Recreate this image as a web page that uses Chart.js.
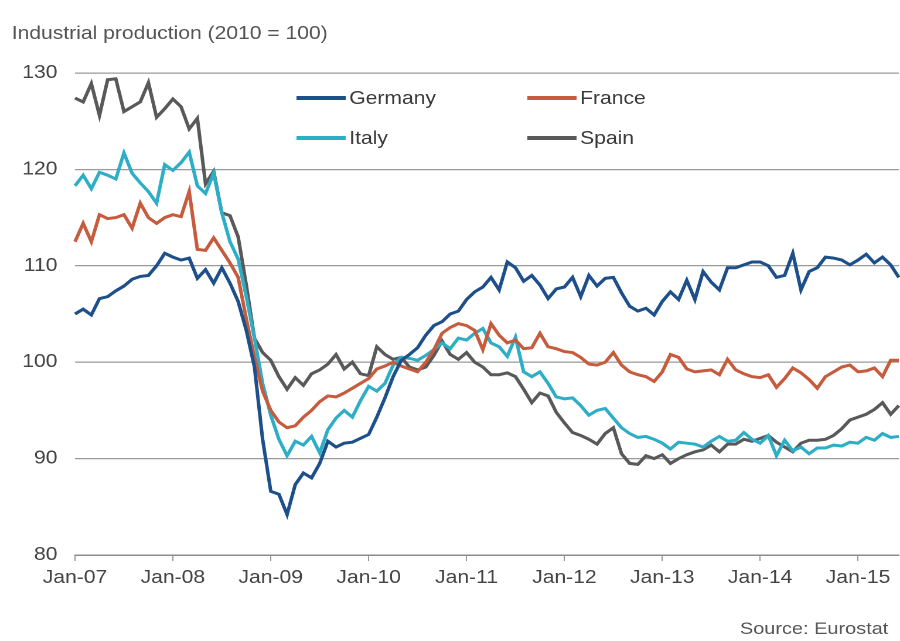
<!DOCTYPE html>
<html lang="en">
<head>
    <meta charset="UTF-8" />
    <title>Industrial production (2010 = 100)</title>
    <script src="https://cdn.jsdelivr.net/npm/chart.js"></script>
    <style>
        body { margin: 0; background: #fff; overflow: hidden; }
        /* the source picture is stretched sideways, so the whole chart is too */
        #wrap { width: 768px; height: 641px; transform: scaleX(1.171875); transform-origin: 0 0; }
    </style>
</head>
<body>
    <div id="wrap"><canvas id="ipChart" width="768" height="641"></canvas></div>

    <script>
        // monthly index, Jan-07 .. Jun-15 (2010 = 100)
        const tickLabels = ['Jan-07', 'Jan-08', 'Jan-09', 'Jan-10', 'Jan-11', 'Jan-12', 'Jan-13', 'Jan-14', 'Jan-15'];
        const yTicks = [80, 90, 100, 110, 120, 130];

        const germany = [
            105.0, 105.5, 104.9, 106.6, 106.8, 107.4, 107.9, 108.6, 108.9, 109.0, 110.0, 111.3,
            110.9, 110.6, 110.8, 108.7, 109.6, 108.2, 109.8, 108.2, 106.3, 103.3, 99.5, 92.0,
            86.6, 86.3, 84.2, 87.3, 88.5, 88.0, 89.5, 91.8, 91.2, 91.6, 91.7, 92.1,
            92.5, 94.3, 96.3, 98.5, 100.2, 100.8, 101.5, 102.8, 103.8, 104.2, 105.0, 105.3,
            106.5, 107.3, 107.8, 108.8, 107.5, 110.4, 109.8, 108.4, 109.0, 108.0, 106.6, 107.6,
            107.8, 108.8, 106.8, 109.0, 107.9, 108.7, 108.8, 107.2, 105.8, 105.3, 105.6, 104.9,
            106.3, 107.3, 106.5, 108.5, 106.5, 109.4, 108.3, 107.5, 109.8, 109.8, 110.1, 110.4,
            110.4, 110.0, 108.8, 109.0, 111.3, 107.5, 109.4, 109.8, 110.9, 110.8, 110.6, 110.1,
            110.6, 111.2, 110.3, 110.9, 110.1, 108.8
        ];
        const france = [
            112.5, 114.4, 112.5, 115.3, 114.9, 115.0, 115.3, 113.9, 116.5, 115.0, 114.4, 115.0,
            115.3, 115.1, 117.7, 111.7, 111.6, 112.9, 111.6, 110.3, 108.8, 104.5, 100.5, 97.0,
            95.0, 93.8, 93.2, 93.4, 94.3, 95.0, 95.9, 96.5, 96.4, 96.8, 97.3, 97.8,
            98.3, 99.3, 99.6, 100.0, 99.6, 99.3, 99.0, 100.0, 101.3, 103.0, 103.6, 104.0,
            103.8, 103.3, 101.3, 104.0, 102.8, 102.0, 102.3, 101.4, 101.5, 103.0, 101.6, 101.4,
            101.1, 101.0, 100.5, 99.8, 99.7, 100.0, 101.0, 99.7, 99.0, 98.7, 98.5, 98.0,
            99.0, 100.8, 100.5, 99.3, 99.0, 99.1, 99.2, 98.7, 100.3, 99.2, 98.8, 98.5,
            98.4, 98.7, 97.4, 98.3, 99.4, 98.9, 98.2, 97.3, 98.5, 99.0, 99.5, 99.7,
            99.0, 99.1, 99.4, 98.5, 100.2, 100.2
        ];
        const italy = [
            118.3, 119.4, 118.0, 119.7, 119.4, 119.0, 121.7, 119.6, 118.6, 117.7, 116.5, 120.5,
            119.9, 120.7, 121.8, 118.3, 117.5, 119.6, 115.5, 112.5, 110.7, 106.8, 102.5, 97.8,
            94.5, 92.0, 90.3, 91.8, 91.4, 92.3, 90.6, 93.0, 94.2, 95.0, 94.3, 96.0,
            97.5, 97.0, 97.8, 99.7, 100.5, 100.4, 100.2, 100.7, 101.3, 102.0, 101.4, 102.5,
            102.3, 103.0, 103.5, 102.0, 101.6, 100.6, 102.6, 99.0, 98.5, 99.0, 97.8, 96.4,
            96.2, 96.3, 95.5, 94.5, 95.0, 95.2, 94.2, 93.2, 92.6, 92.2, 92.3, 92.0,
            91.6, 91.0, 91.7, 91.6, 91.5, 91.2, 91.8, 92.3, 91.8, 91.9, 92.7, 92.0,
            91.6, 92.4, 90.3, 91.9, 90.8, 91.2, 90.5, 91.1, 91.1, 91.4, 91.3, 91.7,
            91.6, 92.2, 91.9, 92.6, 92.2, 92.3
        ];
        const spain = [
            127.4, 127.0, 128.9, 125.6, 129.3, 129.4, 126.0, 126.5, 127.0, 129.0, 125.4, 126.3,
            127.3, 126.5, 124.2, 125.3, 118.5, 119.8, 115.5, 115.2, 113.0, 108.0, 102.5, 101.0,
            100.2, 98.5, 97.2, 98.4, 97.6, 98.8, 99.2, 99.8, 100.8, 99.3, 100.0, 98.8,
            98.6, 101.6, 100.8, 100.3, 100.5, 99.5, 99.2, 99.5, 100.7, 102.2, 100.8, 100.3,
            101.0, 100.0, 99.5, 98.7, 98.7, 98.9, 98.5, 97.2, 95.8, 96.8, 96.5, 94.8,
            93.7, 92.7, 92.4, 92.0, 91.5, 92.6, 93.2, 90.5, 89.5, 89.4, 90.3, 90.0,
            90.4, 89.5, 90.0, 90.4, 90.7, 90.9, 91.4, 90.7, 91.5, 91.5, 92.0, 91.8,
            92.1, 92.4, 91.7, 91.2, 90.7, 91.6, 91.9, 91.9, 92.0, 92.4, 93.1, 94.0,
            94.3, 94.6, 95.1, 95.8, 94.6, 95.5
        ];

        const font = "'Liberation Sans', Arial, sans-serif";
        const series = [
            { label: 'Germany', data: germany, color: '#1d4f8a' },
            { label: 'France', data: france, color: '#c65b3d' },
            { label: 'Italy', data: italy, color: '#2eaec6' },
            { label: 'Spain', data: spain, color: '#595959' }
        ];

        // title, 2x2 legend inside the plot and the source note
        const extras = {
            id: 'extras',
            afterDraw(chart) {
                const c = chart.ctx;
                c.save();
                c.fillStyle = '#555';
                c.font = '18px ' + font;
                c.textBaseline = 'alphabetic';
                c.textAlign = 'left';
                c.fillText('Industrial production (2010 = 100)', 10, 39);
                c.font = '17px ' + font;
                c.textAlign = 'right';
                c.fillText('Source: Eurostat', 758, 634);

                const spots = [[253, 98], [450, 98], [253, 138], [450, 138]];
                c.font = '18px ' + font;
                c.textAlign = 'left';
                c.textBaseline = 'middle';
                series.forEach((s, i) => {
                    const [x, y] = spots[i];
                    c.strokeStyle = s.color;
                    c.lineWidth = 4;
                    c.beginPath();
                    c.moveTo(x, y);
                    c.lineTo(x + 42, y);
                    c.stroke();
                    c.fillStyle = '#3a3a3a';
                    c.fillText(s.label, x + 45, y + 1);
                });
                c.restore();
            }
        };

        const ctx = document.getElementById('ipChart').getContext('2d');
        new Chart(ctx, {
            type: 'line',
            data: {
                datasets: series.map(s => ({
                    label: s.label,
                    data: s.data.map((v, i) => ({ x: i, y: v })),
                    borderColor: s.color,
                    borderWidth: 3,
                    pointRadius: 0,
                    fill: false,
                    clip: 4
                }))
            },
            options: {
                responsive: false,
                devicePixelRatio: 2,
                animation: false,
                layout: { padding: { top: 73, right: 1, bottom: 0, left: 0 } },
                plugins: { legend: { display: false }, tooltip: { enabled: false } },
                scales: {
                    x: {
                        type: 'linear',
                        min: 0,
                        max: germany.length - 1,
                        afterBuildTicks: s => { s.ticks = tickLabels.map((t, i) => ({ value: i * 12 })); },
                        afterFit: s => { s.height = 86; },
                        grid: { drawOnChartArea: false, drawTicks: true, tickLength: 6, color: '#999' },
                        border: { display: true, color: '#8c8c8c', width: 1.5 },
                        ticks: {
                            autoSkip: false,
                            maxRotation: 0,
                            padding: 6,
                            color: '#444',
                            font: { family: font, size: 18 },
                            callback: v => tickLabels[v / 12]
                        }
                    },
                    y: {
                        min: yTicks[0],
                        max: yTicks[yTicks.length - 1],
                        afterBuildTicks: s => { s.ticks = yTicks.map(v => ({ value: v })); },
                        afterFit: s => { s.width = 64; },
                        grid: { color: '#9a9a9a', lineWidth: 1.2, drawTicks: false },
                        border: { display: false },
                        ticks: {
                            padding: 15,
                            color: '#444',
                            font: { family: font, size: 18 }
                        }
                    }
                }
            },
            plugins: [extras]
        });
    </script>
</body>
</html>
